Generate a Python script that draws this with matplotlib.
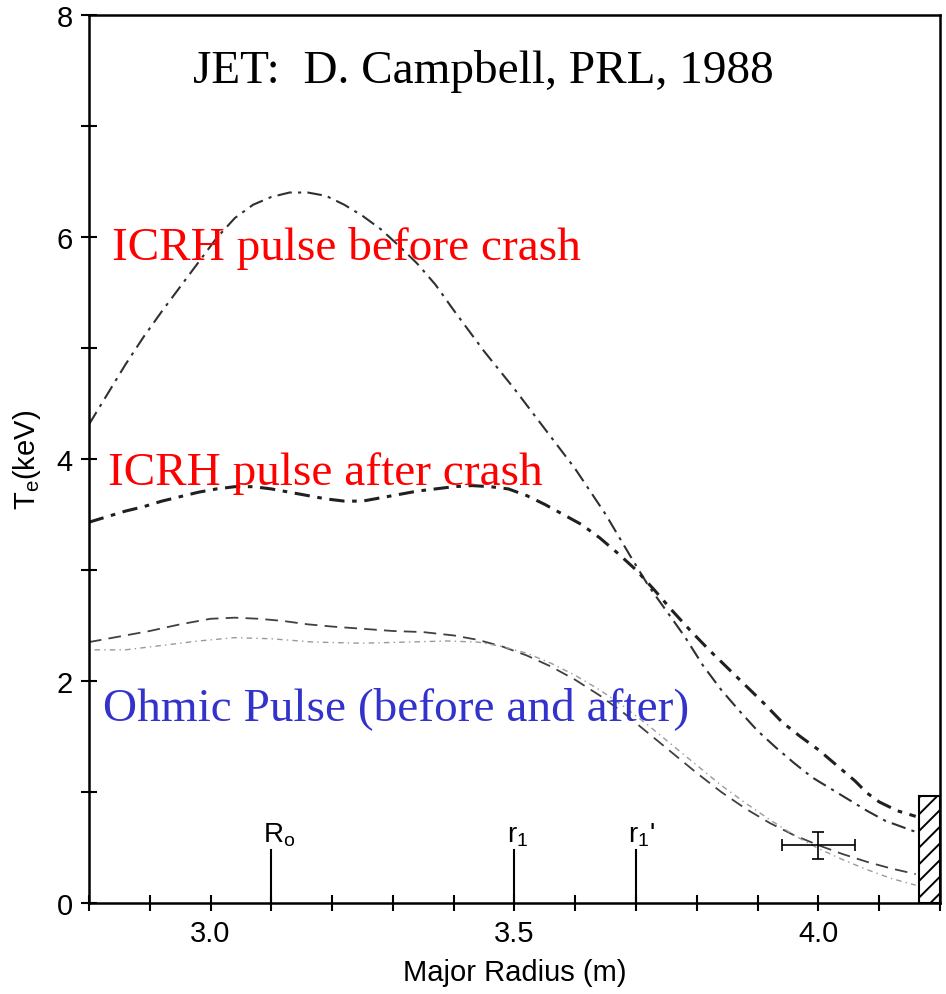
import matplotlib
matplotlib.use("Agg")
import numpy as np
from matplotlib import pyplot as plt
from matplotlib.patches import Rectangle

# ICRH pulse, before sawtooth crash
x_before = [2.80, 2.83, 2.86, 2.89, 2.92, 2.95, 2.98, 3.01, 3.04, 3.07, 3.10, 3.13,
            3.16, 3.19, 3.22, 3.25, 3.28, 3.31, 3.34, 3.37, 3.40, 3.45, 3.50, 3.55,
            3.60, 3.65, 3.69, 3.72, 3.75, 3.78, 3.81, 3.84, 3.87, 3.90, 3.93, 3.96,
            3.99, 4.02, 4.05, 4.08, 4.11, 4.14, 4.16]
te_before = [4.31, 4.58, 4.85, 5.10, 5.33, 5.55, 5.77, 5.99, 6.17, 6.29, 6.36, 6.40,
             6.40, 6.37, 6.29, 6.19, 6.07, 5.92, 5.76, 5.57, 5.34, 4.97, 4.63, 4.27,
             3.91, 3.50, 3.13, 2.86, 2.63, 2.40, 2.14, 1.92, 1.73, 1.55, 1.40, 1.26,
             1.13, 1.03, 0.93, 0.83, 0.74, 0.68, 0.64]

# ICRH pulse, after crash
x_after = [2.80, 2.83, 2.86, 2.89, 2.92, 2.95, 2.98, 3.01, 3.04, 3.07, 3.10, 3.13,
           3.16, 3.19, 3.22, 3.25, 3.28, 3.31, 3.34, 3.37, 3.40, 3.43, 3.46, 3.49,
           3.52, 3.55, 3.58, 3.61, 3.64, 3.67, 3.70, 3.73, 3.76, 3.79, 3.82, 3.85,
           3.88, 3.91, 3.94, 3.97, 4.00, 4.03, 4.06, 4.08, 4.10, 4.13, 4.16]
te_after = [3.43, 3.48, 3.53, 3.57, 3.62, 3.66, 3.70, 3.73, 3.75, 3.75, 3.73, 3.70,
            3.67, 3.64, 3.62, 3.62, 3.65, 3.68, 3.71, 3.73, 3.75, 3.76, 3.75, 3.73,
            3.67, 3.59, 3.50, 3.41, 3.29, 3.15, 3.00, 2.82, 2.63, 2.45, 2.28, 2.12,
            1.96, 1.80, 1.63, 1.50, 1.38, 1.24, 1.10, 0.99, 0.91, 0.83, 0.78]

# Ohmic pulse, before
x_ohm1 = [2.80, 2.85, 2.90, 2.95, 3.00, 3.04, 3.08, 3.12, 3.16, 3.20, 3.25, 3.30,
          3.35, 3.40, 3.44, 3.48, 3.52, 3.56, 3.60, 3.64, 3.68, 3.72, 3.76, 3.80,
          3.84, 3.88, 3.92, 3.96, 4.00, 4.04, 4.08, 4.12, 4.16]
te_ohm1 = [2.35, 2.40, 2.45, 2.51, 2.56, 2.57, 2.56, 2.54, 2.51, 2.49, 2.47, 2.45,
           2.44, 2.41, 2.37, 2.31, 2.23, 2.13, 2.01, 1.87, 1.71, 1.53, 1.35, 1.17,
           1.00, 0.85, 0.72, 0.61, 0.52, 0.44, 0.37, 0.31, 0.26]

# Ohmic pulse, after
x_ohm2 = [2.80, 2.86, 2.92, 2.98, 3.04, 3.10, 3.17, 3.25, 3.32, 3.39, 3.44, 3.48,
          3.52, 3.56, 3.60, 3.64, 3.68, 3.72, 3.76, 3.80, 3.84, 3.88, 3.92, 3.96,
          4.00, 4.04, 4.08, 4.12, 4.16]
te_ohm2 = [2.28, 2.28, 2.32, 2.36, 2.39, 2.38, 2.35, 2.34, 2.35, 2.36, 2.35, 2.31,
           2.25, 2.16, 2.05, 1.92, 1.77, 1.60, 1.42, 1.24, 1.06, 0.90, 0.75, 0.61,
           0.49, 0.39, 0.30, 0.22, 0.16]

# marker positions
mark_x = [3.1, 3.5, 3.7]
mark_lbl = [r"R$_\mathregular{o}$", r"r$_\mathregular{1}$", r"r$_\mathregular{1}$'"]

# error bar point
err_x, err_y = 4.0, 0.52
err_dx, err_dy = 0.06, 0.12

# limiter (hatched)
lim_x0, lim_x1, lim_h = 4.165, 4.2, 0.96

plt.rcParams["font.family"] = ["Liberation Sans", "DejaVu Sans"]
plt.rcParams["hatch.linewidth"] = 1.4

fig = plt.figure(figsize=(9.46, 9.95), dpi=100)
ax = fig.add_axes([0.094, 0.0915, 0.8997, 0.8925])

ax.plot(x_before, te_before, color="#303030", lw=1.5, dashes=(7, 3, 1.5, 3))
ax.plot(x_after, te_after, color="#202020", lw=2.2, dashes=(5, 2.5, 1.5, 2.5))
ax.plot(x_ohm1, te_ohm1, color="#404040", lw=1.3, dashes=(7, 4))
ax.plot(x_ohm2, te_ohm2, color="#9a9a9a", lw=1.0, dashes=(1, 3, 4, 3))

for xm, lb in zip(mark_x, mark_lbl):
    ax.plot([xm, xm], [0, 0.48], color="black", lw=1.5)
    ax.text(xm - 0.013, 0.56, lb, fontsize=20, ha="left", va="baseline")

ax.errorbar(err_x, err_y, xerr=err_dx, yerr=err_dy, color="black", lw=1.2,
            capsize=4, capthick=1.2)

ax.add_patch(Rectangle((lim_x0, 0), lim_x1 - lim_x0, lim_h, fill=False,
                       hatch="//", lw=1.5, edgecolor="black"))

serif = ["Liberation Serif", "DejaVu Serif"]
ax.text(2.971, 7.40, "JET:  D. Campbell, PRL, 1988", fontsize=34, family=serif,
        color="black", va="baseline")
ax.text(2.838, 5.80, "ICRH pulse before crash", fontsize=34, family=serif,
        color="#ff0000", va="baseline")
ax.text(2.831, 3.77, "ICRH pulse after crash", fontsize=34, family=serif,
        color="#ff0000", va="baseline")
ax.text(2.823, 1.66, "Ohmic Pulse (before and after)", fontsize=34, family=serif,
        color="#3333cc", va="baseline")

ax.set_xlim(2.8, 4.2)
ax.set_ylim(0, 8)
ax.set_xticks(np.arange(2.8, 4.21, 0.1))
ax.set_xticklabels(["" if round(v, 2) not in (3.0, 3.5, 4.0) else f"{v:.1f}"
                    for v in np.arange(2.8, 4.21, 0.1)])
ax.set_yticks(range(0, 9))
ax.set_yticklabels([str(v) if v % 2 == 0 else "" for v in range(0, 9)])
ax.tick_params(direction="inout", length=11, width=1.5, labelsize=21)
ax.tick_params(axis="x", pad=6)
ax.tick_params(axis="y", pad=6)
for sp in ax.spines.values():
    sp.set_linewidth(1.8)

ax.set_xlabel("Major Radius (m)", fontsize=21, labelpad=8)
ax.set_ylabel(r"T$_\mathregular{e}$(keV)", fontsize=21, labelpad=10)

fig.savefig("out.png", dpi=100)
